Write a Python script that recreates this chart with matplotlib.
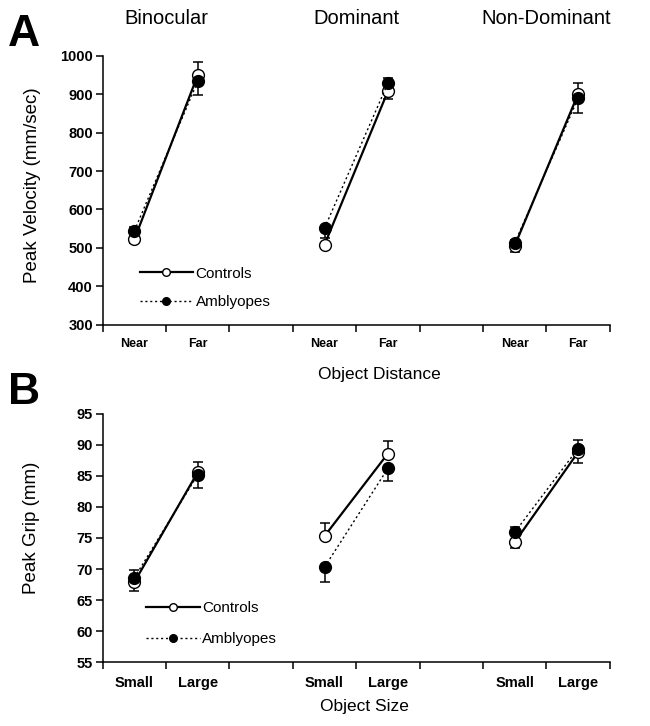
import matplotlib
matplotlib.use('Agg')
import matplotlib.pyplot as plt
from matplotlib.lines import Line2D
from matplotlib.transforms import blended_transform_factory

plt.rcParams['font.family'] = ['Liberation Sans', 'DejaVu Sans']

# ---------------- data ----------------
conditions = ['Binocular', 'Dominant', 'Non-Dominant']
dist_labels = ['Near', 'Far']
size_labels = ['Small', 'Large']
series_names = ['Controls', 'Amblyopes']

vel_yticks = [300, 400, 500, 600, 700, 800, 900, 1000]
grip_yticks = [55, 60, 65, 70, 75, 80, 85, 90, 95]

# order: Binocular Near, Far, Dominant Near, Far, Non-Dominant Near, Far
vel_controls = [522, 950, 508, 908, 505, 900]
vel_controls_lo = [10, 0, 8, 21, 17, 0]
vel_controls_hi = [0, 35, 0, 0, 0, 30]
vel_amblyopes = [544, 934, 551, 929, 512, 889]
vel_amblyopes_lo = [0, 36, 25, 0, 0, 39]
vel_amblyopes_hi = [10, 0, 0, 14, 8, 0]

# order: Binocular Small, Large, Dominant Small, Large, Non-Dominant Small, Large
grip_controls = [67.9, 85.6, 75.3, 88.6, 74.3, 88.8]
grip_controls_lo = [1.5, 0, 0, 0, 0.9, 1.7]
grip_controls_hi = [0, 1.7, 2.1, 2.0, 0, 0]
grip_amblyopes = [68.6, 85.2, 70.3, 86.2, 75.9, 89.4]
grip_amblyopes_lo = [0, 2.1, 2.4, 2.1, 0, 0]
grip_amblyopes_hi = [1.2, 0, 0, 0, 0.8, 1.4]

# ---------------- styles ----------------
ctrl_style = dict(color='black', linestyle='-', linewidth=1.6, marker='o',
                  markersize=8.5, markerfacecolor='white', markeredgecolor='black',
                  markeredgewidth=1.0)
amb_style = dict(color='black', linestyle=(0, (1.5, 2.0)), linewidth=1.0, marker='o',
                 markersize=8.5, markerfacecolor='black', markeredgecolor='black',
                 markeredgewidth=1.0)

fig = plt.figure(figsize=(6.5, 7.26), dpi=100)
axA = fig.add_axes([0.158, 0.553, 0.780, 0.370])
axB = fig.add_axes([0.158, 0.088, 0.780, 0.342])

n_groups = len(conditions)
xpos = [3 * g + 0.5 + j for g in range(n_groups) for j in range(2)]


def draw_panel(ax, ctrl, ctrl_lo, ctrl_hi, amb, amb_lo, amb_hi, levels, yticks,
               level_fs):
    for vals, lo, hi in ((amb, amb_lo, amb_hi), (ctrl, ctrl_lo, ctrl_hi)):
        ax.errorbar(xpos, vals, yerr=[lo, hi], fmt='none', ecolor='black',
                    elinewidth=1.1, capsize=3.3, capthick=1.1, zorder=1)
    for g in range(n_groups):
        sl = slice(2 * g, 2 * g + 2)
        ax.plot(xpos[sl], ctrl[sl], zorder=3, **ctrl_style)
        ax.plot(xpos[sl], amb[sl], zorder=4, **amb_style)
    ax.set_xlim(0, 3 * n_groups - 1)
    ax.set_ylim(yticks[0], yticks[-1])
    ax.set_yticks(yticks)
    ax.set_yticklabels([str(t) for t in yticks], fontsize=10.5, fontweight='bold')
    ax.set_xticks(range(0, 3 * n_groups - 1 + 1))
    ax.set_xticklabels([])
    ax.set_xticks(xpos, minor=True)
    ax.set_xticklabels(levels * n_groups, minor=True, fontsize=level_fs,
                       fontweight='bold')
    ax.tick_params(axis='x', which='minor', length=0, pad=10)
    ax.tick_params(axis='both', which='major', direction='out', length=5,
                   width=1.1, color='black')
    ax.tick_params(axis='y', pad=2)
    for s in ('top', 'right'):
        ax.spines[s].set_visible(False)
    for s in ('left', 'bottom'):
        ax.spines[s].set_linewidth(1.1)


draw_panel(axA, vel_controls, vel_controls_lo, vel_controls_hi,
           vel_amblyopes, vel_amblyopes_lo, vel_amblyopes_hi,
           dist_labels, vel_yticks, 9)
draw_panel(axB, grip_controls, grip_controls_lo, grip_controls_hi,
           grip_amblyopes, grip_amblyopes_lo, grip_amblyopes_hi,
           size_labels, grip_yticks, 10.5)

# legends
leg_handles = [
    Line2D([], [], color='black', linestyle='-', linewidth=1.6, marker='o',
           markersize=5.5, markerfacecolor='white', markeredgecolor='black'),
    Line2D([], [], color='black', linestyle=(0, (1.5, 2.0)), linewidth=1.0,
           marker='o', markersize=5.5, markerfacecolor='black',
           markeredgecolor='black'),
]
axA.legend(leg_handles, series_names, loc='upper left', bbox_to_anchor=(0.073, 0.215),
           frameon=False, fontsize=11, handlelength=3.5, handletextpad=0.15,
           labelspacing=0.95, borderpad=0, borderaxespad=0)
axB.legend(leg_handles, series_names, loc='upper left', bbox_to_anchor=(0.086, 0.245),
           frameon=False, fontsize=11, handlelength=3.5, handletextpad=0.15,
           labelspacing=1.1, borderpad=0, borderaxespad=0)

# titles over each condition
tr = blended_transform_factory(axA.transData, fig.transFigure)
for g, name in enumerate(conditions):
    axA.text(3 * g + 1, 1 - 18 / 726, name, transform=tr, ha='center', va='center',
             fontsize=14.5)

# axis labels
fig.text(33 / 650, 1 - 185 / 726, 'Peak Velocity (mm/sec)', rotation=90,
         ha='center', va='center', fontsize=13.5)
fig.text(31 / 650, 1 - 528 / 726, 'Peak Grip (mm)', rotation=90,
         ha='center', va='center', fontsize=13.5)
fig.text(379 / 650, 1 - 375 / 726, 'Object Distance', ha='center', va='center',
         fontsize=12.5)
fig.text(364 / 650, 1 - 706 / 726, 'Object Size', ha='center', va='center',
         fontsize=12.5)

# panel letters
fig.text(24 / 650, 1 - 34 / 726, 'A', ha='center', va='center', fontsize=32,
         fontweight='bold')
fig.text(24 / 650, 1 - 392 / 726, 'B', ha='center', va='center', fontsize=32,
         fontweight='bold')

fig.savefig('out.png', dpi=100)
